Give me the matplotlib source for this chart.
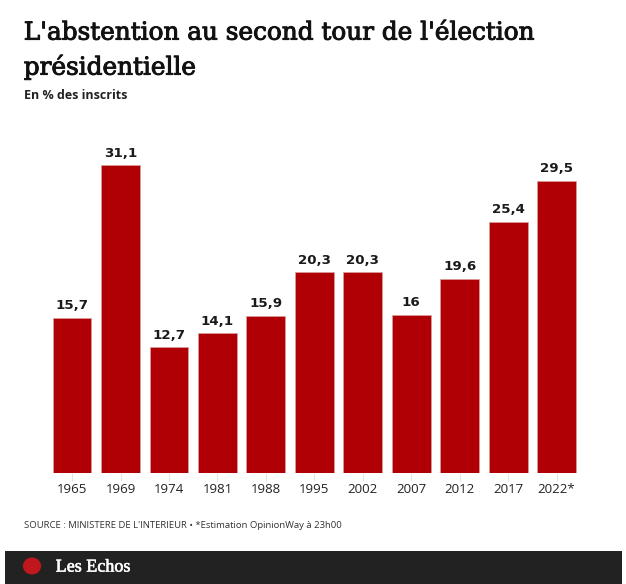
import matplotlib.pyplot as plt
import matplotlib.patheffects as pe
from matplotlib.patches import Rectangle, Circle

# Data
years = ["1965", "1969", "1974", "1981", "1988", "1995", "2002", "2007", "2012", "2017", "2022*"]
abstention = [15.7, 31.1, 12.7, 14.1, 15.9, 20.3, 20.3, 16.0, 19.6, 25.4, 29.5]
value_labels = ["15,7", "31,1", "12,7", "14,1", "15,9", "20,3", "20,3", "16", "19,6", "25,4", "29,5"]

BAR_COLOR = "#b00006"

fig = plt.figure(figsize=(6.26, 5.84), dpi=100)
ax = fig.add_axes([0.0764, 0.190, 0.8514, 0.5594])

x = range(len(years))
ax.bar(x, abstention, width=0.8, color=BAR_COLOR, edgecolor="#d9a0a0", linewidth=0.5)

for i, (v, lab) in enumerate(zip(abstention, value_labels)):
    ax.annotate(lab, (i, v), xytext=(0, 4), textcoords="offset points",
                ha="center", va="bottom", fontsize=9.6, fontweight="bold",
                family="DejaVu Sans", color="#1a1a1a")

ax.set_xlim(-0.5, len(years) - 0.5)
ax.set_ylim(0, 33)
ax.set_xticks(list(x))
ax.set_xticklabels(years, family="Open Sans", fontsize=9.5, color="#222222")
ax.tick_params(axis="x", length=6, color="#e4e4e4", pad=1.5)
ax.set_yticks([])
for s in ax.spines.values():
    s.set_visible(False)

# Title and subtitle
fig.text(0.038, 0.963, "L'abstention au second tour de l'élection\nprésidentielle",
         family="DejaVu Serif", fontsize=17.8, va="top", ha="left",
         color="#111111", linespacing=1.5,
         path_effects=[pe.withStroke(linewidth=0.7, foreground="#111111")])
fig.text(0.038, 0.836, "En % des inscrits", family="Open Sans", fontweight="bold",
         fontsize=9, va="center", ha="left", color="#222222")

# Source
fig.text(0.038, 0.101, "SOURCE : MINISTERE DE L'INTERIEUR • *Estimation OpinionWay à 23h00",
         family="Open Sans", fontsize=6.8, va="center", ha="left", color="#333333")

# Footer band with logo
fig.patches.append(Rectangle((0.008, 0.0), 0.986, 0.057, transform=fig.transFigure,
                             facecolor="#222222", edgecolor="none"))
fig.patches.append(Circle((32 / 626, (584 - 566) / 584), 8.5 / 584, transform=fig.transFigure,
                          facecolor="#c0171c", edgecolor="none"))
fig.text(0.089, 0.029, "Les Echos", family="Liberation Serif", fontsize=13,
         color="white", va="center", ha="left",
         path_effects=[pe.withStroke(linewidth=0.4, foreground="white")])

fig.savefig("out.png", dpi=100)
